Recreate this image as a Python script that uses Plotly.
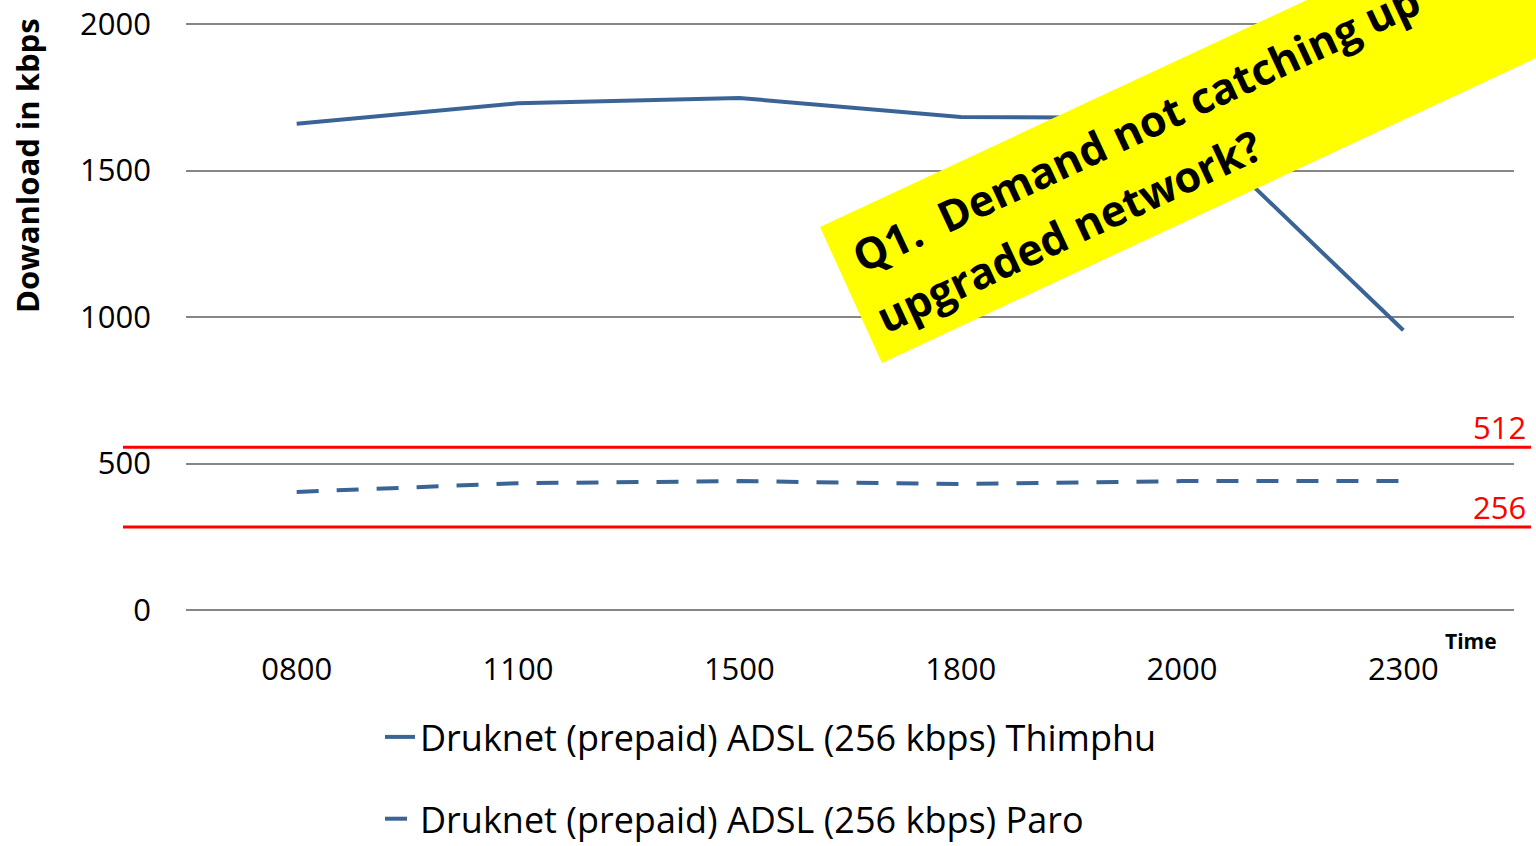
import plotly.graph_objects as go

# values
times = ["0800", "1100", "1500", "1800", "2000", "2300"]
thimphu = [1660, 1730, 1748, 1683, 1680, 955]
paro = [403, 433, 440, 430, 440, 440]
series_names = ["Druknet (prepaid) ADSL (256 kbps) Thimphu",
                "Druknet (prepaid) ADSL (256 kbps) Paro"]
threshold_labels = ["512", "256"]
threshold_levels = [556, 283]   # where the red lines sit on the y scale
banner_lines = ["Q1.  Demand not catching up", "upgraded network?"]

W, H = 1536, 846
L, R, T, B = 186, 22, 23, 236
BLUE = "#3b6496"
FONT = "Open Sans, Calibri, sans-serif"


# pixel -> paper helpers for the overlay bits
def px(x):
    return (x - L) / (W - L - R)


def py(y):
    return (H - B - y) / (H - T - B)


fig = go.Figure()
fig.add_trace(go.Scatter(
    x=times, y=thimphu, mode="lines", name=series_names[0],
    line=dict(color=BLUE, width=4), legendgroup="a"
))
fig.add_trace(go.Scatter(
    x=times, y=paro, mode="lines", name=series_names[1],
    line=dict(color=BLUE, width=4, dash="22px,18px"), legendgroup="b"
))

# red reference lines + their labels
for lvl, lab in zip(threshold_levels, threshold_labels):
    fig.add_shape(type="line", xref="paper", yref="y",
                  x0=px(123), x1=px(1531), y0=lvl, y1=lvl,
                  line=dict(color="#ff0000", width=3))
    fig.add_annotation(text=lab, xref="paper", yref="y",
                       x=px(1528), y=lvl, xanchor="right", yanchor="bottom",
                       yshift=-3, showarrow=False,
                       font=dict(family=FONT, size=31, color="#ff0000"))

# yellow banner, rotated ~25 degrees
slope = 0.4663
x_end = 1650
banner = [(820, 227), (x_end, 227 - slope * (x_end - 820)),
          (x_end, 363 - slope * (x_end - 882)), (882, 363)]
path = "M " + " L ".join(f"{px(a):.4f},{py(b):.4f}" for a, b in banner) + " Z"
fig.add_shape(type="path", xref="paper", yref="paper", path=path,
              fillcolor="#ffff00", line=dict(width=0), layer="above")

for txt, (bx, by) in zip(banner_lines, [(840, 288), (864, 348)]):
    fig.add_annotation(text=txt, xref="paper", yref="paper",
                       x=px(bx), y=py(by), xanchor="left", yanchor="bottom",
                       textangle=-25, showarrow=False,
                       font=dict(family=FONT, size=43, color="black", weight="bold"))

# axis title (sits high, not centred on the axis) and the "Time" label
fig.add_annotation(text="<b>Dowanload in kbps</b>", xref="paper", yref="paper",
                   x=px(27), y=py(166), xanchor="center", yanchor="middle",
                   textangle=-90, showarrow=False,
                   font=dict(family=FONT, size=31, color="black"))
fig.add_annotation(text="<b>Time</b>", xref="paper", yref="paper",
                   x=px(1471), y=py(641), xanchor="center", yanchor="middle",
                   showarrow=False,
                   font=dict(family=FONT, size=21, color="black"))

fig.update_layout(
    width=W, height=H,
    margin=dict(l=L, r=R, t=T, b=B, autoexpand=False),
    paper_bgcolor="white", plot_bgcolor="white",
    font=dict(family=FONT, size=31, color="black"),
    showlegend=True,
    legend=dict(x=px(380), y=py(707), xanchor="left", yanchor="top",
                traceorder="grouped", tracegroupgap=32,
                font=dict(family=FONT, size=36, color="black"),
                bgcolor="rgba(0,0,0,0)"),
    xaxis=dict(type="category", range=[-0.5, 5.5], showgrid=False,
               showline=False, zeroline=False, ticks="",
               ticklabelstandoff=38, tickfont=dict(size=31)),
    yaxis=dict(range=[0, 2004], tickvals=[0, 500, 1000, 1500, 2000],
               showgrid=True, gridcolor="#868686", gridwidth=1.5,
               zeroline=True, zerolinecolor="#868686", zerolinewidth=1.5,
               showline=False, ticks="", ticklabelstandoff=34,
               tickfont=dict(size=31)),
)

fig.write_html("out.html", config={"displayModeBar": False},
               post_script="document.body.style.margin='0px';")
